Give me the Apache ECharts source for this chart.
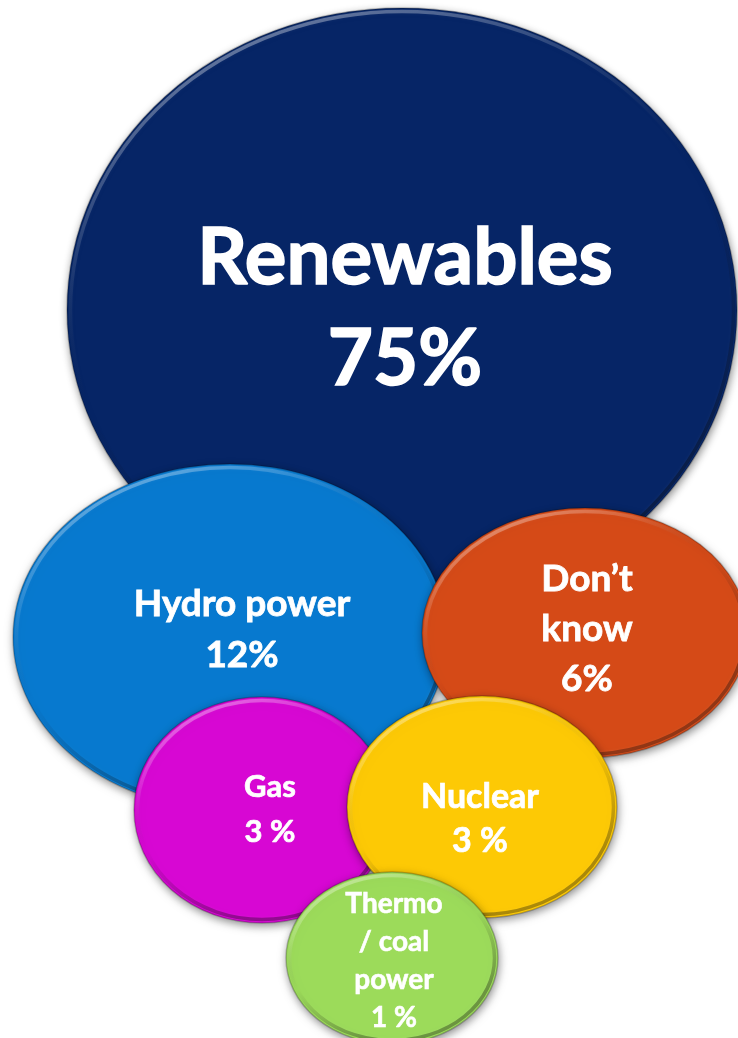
<!DOCTYPE html>
<html>
<head>
<meta charset="utf-8">
<title>Preferred energy sources</title>
<script src="https://cdn.jsdelivr.net/npm/echarts@6/dist/echarts.min.js"></script>
<style>
  html, body { margin: 0; padding: 0; background: #ffffff; }
  #chart { width: 738px; height: 1038px; }
</style>
</head>
<body>
<div id="chart"></div>
<script>
// Share of answers per energy source
const categories = ['Renewables', 'Hydro power', 'Don\u2019t\nknow', 'Gas', 'Nuclear', 'Thermo\n/ coal\npower'];
const shares = [75, 12, 6, 3, 3, 1];
const percentSeparators = ['', '', '', ' ', ' ', ' '];

// Bubble placement on the hidden layout axes (centre x, centre y) and size in px
const bubbleCentres = [[402, 310], [230, 637], [585, 633], [262, 810], [482, 807], [392, 958]];
const bubbleSizes = [[670, 604], [434, 346], [326, 250], [256, 226], [270, 222], [212, 172]];
const labelAnchors = [[405, 309], [242, 630], [587, 629], [270, 809], [480, 819], [394, 961]];
const fontSizes = [78, 37, 37, 31, 34, 28];
const lineHeights = [101, 51, 50, 45, 44, 38];
const textWeights = [1.6, 0.8, 0.8, 0.7, 0.7, 0.6];
const palette = ['#062566', '#0779cf', '#d54a17', '#d707d3', '#fdc905', '#9cdb5a'];

const ELLIPSE = 'M0,50A50,50,0,1,1,100,50A50,50,0,1,1,0,50Z';

const seriesData = shares.map((v, i) => [
  bubbleCentres[i][0], bubbleCentres[i][1], v, labelAnchors[i][0], labelAnchors[i][1], i
]);

function ellipsePath(cx, cy, w, h, style, z2) {
  return {
    type: 'path',
    z2: z2,
    shape: { pathData: ELLIPSE, x: cx - w / 2, y: cy - h / 2, width: w, height: h, layout: 'cover' },
    style: style,
    silent: true
  };
}

function renderBubble(params, api) {
  const i = api.value(5);
  const c = api.coord([api.value(0), api.value(1)]);
  const t = api.coord([api.value(3), api.value(4)]);
  const w = bubbleSizes[i][0], h = bubbleSizes[i][1];
  const color = palette[i];
  const label = categories[i].split('\n').concat([shares[i] + percentSeparators[i] + '%']).join('\n');
  // each bubble stacks fully above the previous one
  const base = i * 10;

  return {
    type: 'group',
    children: [
      // body with soft drop shadow
      ellipsePath(c[0], c[1], w, h, {
        fill: color,
        stroke: 'rgba(0,0,0,0.22)',
        lineWidth: 1.5,
        shadowBlur: 9,
        shadowOffsetX: 1,
        shadowOffsetY: 3,
        shadowColor: 'rgba(0,0,0,0.45)'
      }, base),
      // bevel: light rim on top, darker rim below
      ellipsePath(c[0], c[1], w - 7, h - 7, {
        fill: 'none',
        lineWidth: 3.5,
        stroke: {
          type: 'linear', x: 0, y: 0, x2: 0.35, y2: 1,
          colorStops: [
            { offset: 0, color: 'rgba(255,255,255,0.50)' },
            { offset: 0.35, color: 'rgba(255,255,255,0.12)' },
            { offset: 0.6, color: 'rgba(0,0,0,0.0)' },
            { offset: 1, color: 'rgba(0,0,0,0.32)' }
          ]
        },
        shadowBlur: 3,
        shadowColor: 'rgba(255,255,255,0.15)'
      }, base + 1),
      {
        type: 'text',
        z2: base + 2,
        silent: true,
        style: {
          text: label,
          x: t[0],
          y: t[1],
          align: 'center',
          verticalAlign: 'middle',
          fill: '#ffffff',
          stroke: '#ffffff',
          lineWidth: textWeights[i],
          fontFamily: 'Lato',
          fontWeight: 'bold',
          fontSize: fontSizes[i],
          lineHeight: lineHeights[i]
        }
      }
    ]
  };
}

const chart = echarts.init(document.getElementById('chart'), null, { renderer: 'canvas' });
chart.setOption({
  backgroundColor: '#ffffff',
  animation: false,
  grid: { left: 0, right: 0, top: 0, bottom: 0 },
  xAxis: { type: 'value', min: 0, max: 738, show: false },
  yAxis: { type: 'value', min: 0, max: 1038, inverse: true, show: false },
  series: [{
    type: 'custom',
    coordinateSystem: 'cartesian2d',
    renderItem: renderBubble,
    clip: false,
    data: seriesData
  }]
});
</script>
</body>
</html>
